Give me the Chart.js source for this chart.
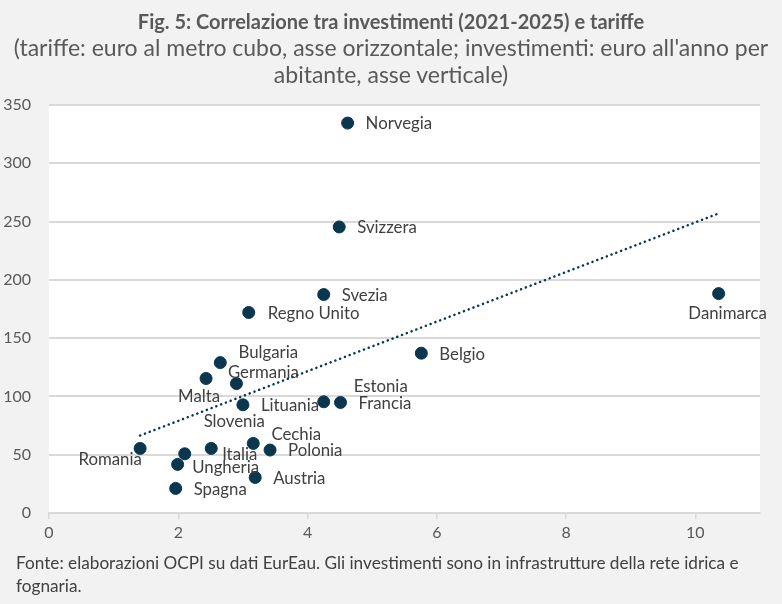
<!DOCTYPE html>
<html>
<head>
<meta charset="utf-8">
<script src="https://cdn.jsdelivr.net/npm/chart.js@4.4.1/dist/chart.umd.min.js"></script>
<style>
    html, body { margin: 0; padding: 0; background: #f2f2f2; }
    body { width: 782px; height: 604px; position: relative; overflow: hidden; font-family: Lato, "Open Sans", sans-serif; }
    #wrap { position: absolute; left: 0; top: 0; width: 782px; height: 604px; }
    .title { position: absolute; left: 0; width: 782px; text-align: center; color: #595959; white-space: nowrap; }
    .title b { font-weight: 700; }
    .note { position: absolute; left: 16px; width: 766px; color: #404040; font-size: 17.2px; line-height: 23px; white-space: nowrap; }
</style>
</head>
<body>
<div id="wrap"><canvas id="chart" width="782" height="604"></canvas></div>
<div class="title" style="top:7px; font-size:20px; line-height:28px;"><b>Fig. 5: Correlazione tra investimenti (2021-2025) e tariffe</b></div>
<div class="title" style="top:34px; font-size:23px; line-height:27px;">(tariffe: euro al metro cubo, asse orizzontale; investimenti: euro all'anno per<br>abitante, asse verticale)</div>
<div class="note" style="top:551px;">Fonte: elaborazioni OCPI su dati EurEau. Gli investimenti sono in infrastrutture della rete idrica e<br>fognaria.</div>
<script>
// dati
let countries = ['Norvegia', 'Svizzera', 'Svezia', 'Regno Unito', 'Danimarca', 'Belgio', 'Bulgaria', 'Malta',
    'Germania', 'Lituania', 'Estonia', 'Francia', 'Slovenia', 'Italia', 'Cechia', 'Polonia', 'Romania',
    'Ungheria', 'Austria', 'Spagna'];
let tariffs = [4.62, 4.49, 4.25, 3.09, 10.36, 5.76, 2.65, 2.43, 2.90, 3.00, 4.25, 4.51, 2.51, 2.10, 3.16, 3.42,
    1.41, 1.99, 3.19, 1.96];
let investments = [334.5, 245.4, 187.4, 172, 188.2, 137.1, 129, 115.4, 111, 92.8, 95.4, 94.8, 55.4, 50.8, 59.7,
    54, 55.4, 41.7, 30.5, 21.1];
let trendX = [1.41, 10.36];
let trendY = [66.5, 257];
let xTicks = [0, 2, 4, 6, 8, 10];
let yTicks = [0, 50, 100, 150, 200, 250, 300, 350];

// posizione delle etichette rispetto al punto (px)
let labelPlacement = {
    'Norvegia': [18, 1, 'left'], 'Svizzera': [18, 1, 'left'], 'Svezia': [18, 1, 'left'],
    'Regno Unito': [19, 1, 'left'], 'Danimarca': [9, 20, 'center'], 'Belgio': [18, 1, 'left'],
    'Bulgaria': [48, -10, 'center'], 'Malta': [-7, 18, 'center'], 'Germania': [27, -11, 'center'],
    'Lituania': [18, 1, 'left'], 'Estonia': [57, -15, 'center'], 'Francia': [18, 1, 'left'],
    'Slovenia': [23, -27, 'center'], 'Italia': [55, 1, 'center'], 'Cechia': [43, -9, 'center'],
    'Polonia': [18, 1, 'left'], 'Romania': [-30, 11, 'center'], 'Ungheria': [48, 3, 'center'],
    'Austria': [18, 1, 'left'], 'Spagna': [18, 1, 'left']
};

let navy = '#0a3650';

let plotBackground = {
    id: 'plotBackground',
    beforeDraw: chart => {
        let a = chart.chartArea;
        let ctx = chart.ctx;
        ctx.save();
        ctx.fillStyle = '#ffffff';
        ctx.fillRect(a.left, a.top, a.right - a.left, a.bottom - a.top);
        ctx.restore();
    }
};

let pointLabels = {
    id: 'pointLabels',
    afterDatasetsDraw: chart => {
        let ctx = chart.ctx;
        let meta = chart.getDatasetMeta(1);
        ctx.save();
        ctx.font = '16.8px Lato, "Open Sans", sans-serif';
        ctx.fillStyle = '#404040';
        ctx.textBaseline = 'middle';
        meta.data.forEach((pt, i) => {
            let name = countries[i];
            let p = labelPlacement[name];
            ctx.textAlign = p[2];
            ctx.fillText(name, pt.x + p[0], pt.y + p[1]);
        });
        ctx.restore();
    }
};

let points = tariffs.map((x, i) => ({x: x, y: investments[i]}));
let trend = trendX.map((x, i) => ({x: x, y: trendY[i]}));

new Chart(document.getElementById('chart').getContext('2d'), {
    type: 'scatter',
    data: {
        datasets: [{
            type: 'line',
            data: trend,
            borderColor: navy,
            borderWidth: 2.5,
            borderDash: [0.1, 5],
            borderCapStyle: 'round',
            pointRadius: 0,
            fill: false
        }, {
            data: points,
            backgroundColor: navy,
            borderColor: navy,
            pointRadius: 6,
            pointHoverRadius: 6
        }]
    },
    options: {
        responsive: false,
        animation: false,
        events: [],
        layout: {padding: {top: 105, left: 0, right: 22, bottom: 61}},
        plugins: {legend: {display: false}, tooltip: {enabled: false}},
        scales: {
            x: {
                type: 'linear',
                min: 0,
                max: 11,
                afterBuildTicks: scale => { scale.ticks = xTicks.map(v => ({value: v})); },
                afterFit: scale => { scale.height = 30; },
                grid: {display: true, drawOnChartArea: false, drawTicks: true, tickLength: 6, color: '#d9d9d9', lineWidth: 1.5},
                border: {display: true, color: '#d9d9d9', width: 2},
                ticks: {color: '#595959', font: {family: 'Lato, "Open Sans", sans-serif', size: 16}, padding: 4}
            },
            y: {
                min: 0,
                max: 350,
                afterBuildTicks: scale => { scale.ticks = yTicks.map(v => ({value: v})); },
                afterFit: scale => { scale.width = 49; },
                grid: {color: '#d9d9d9', lineWidth: 2, drawTicks: false},
                border: {display: false},
                ticks: {color: '#595959', font: {family: 'Lato, "Open Sans", sans-serif', size: 16}, padding: 18}
            }
        }
    },
    plugins: [plotBackground, pointLabels]
});
</script>
</body>
</html>
